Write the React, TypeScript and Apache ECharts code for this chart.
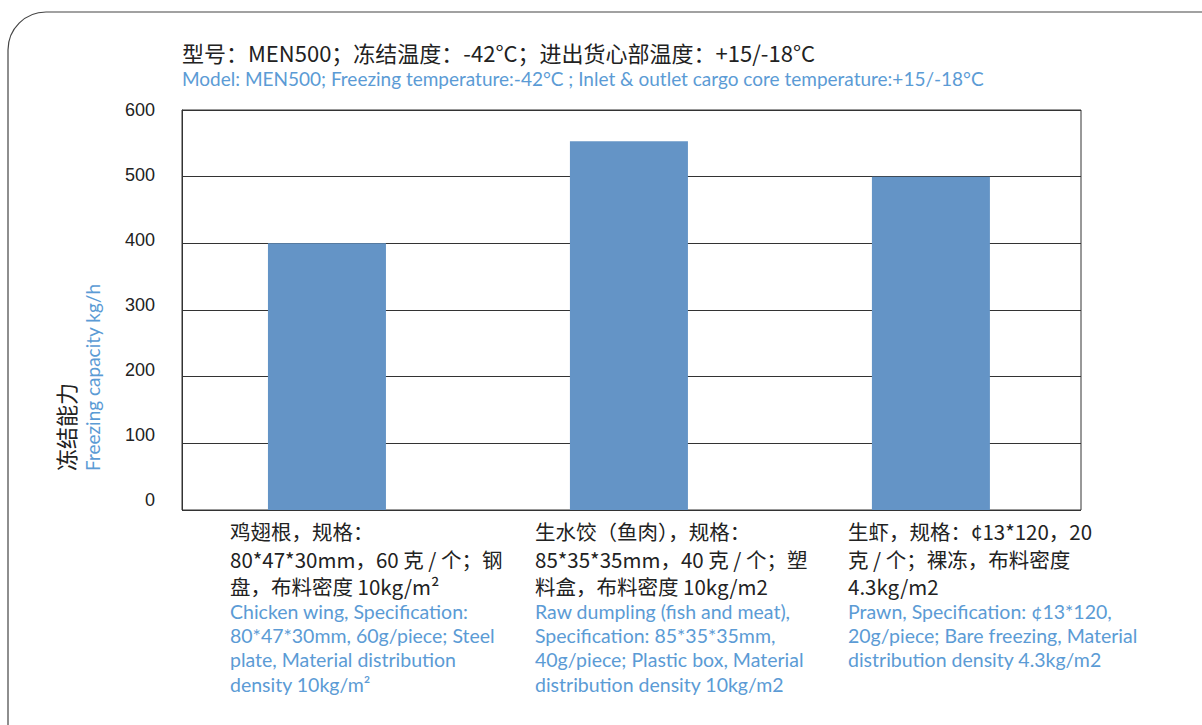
import React, { useEffect, useRef } from "react";
import * as echarts from "echarts";

const titleZh = "型号：MEN500；冻结温度：-42°C；进出货心部温度：+15/-18°C";
const titleEn = "Model: MEN500; Freezing temperature:-42°C ; Inlet & outlet cargo core temperature:+15/-18°C";
const yNameZh = "冻结能力";
const yNameEn = "Freezing capacity kg/h";

const xPositions = [0, 1, 2];
const capacityValues = [400, 553, 500];
const yTicks = [0, 100, 200, 300, 400, 500, 600];

const labelsZh = [
  ["鸡翅根，规格：", "80*47*30mm，60 克 / 个；钢", "盘，布料密度 10kg/m²"],
  ["生水饺（鱼肉），规格：", "85*35*35mm，40 克 / 个；塑", "料盒，布料密度 10kg/m2"],
  ["生虾，规格：¢13*120，20", "克 / 个；裸冻，布料密度", "4.3kg/m2"],
];
const labelsEn = [
  ["Chicken wing, Specification:", "80*47*30mm, 60g/piece; Steel", "plate, Material distribution", "density 10kg/m²"],
  ["Raw dumpling (fish and meat),", "Specification: 85*35*35mm,", "40g/piece; Plastic box, Material", "distribution density 10kg/m2"],
  ["Prawn, Specification: ¢13*120,", "20g/piece; Bare freezing, Material", "distribution density 4.3kg/m2"],
];

const BLUE_TEXT = "#5b9bd5";
const BAR = "#6494c6";
const CJK = "'Noto Sans CJK SC', sans-serif";
const LAT = "Lato, 'Noto Sans', sans-serif";
const TICK_FONT = "'Liberation Sans', Arial, sans-serif";

export default function App() {
  const ref = useRef<HTMLDivElement>(null);
  useEffect(() => {
    if (!ref.current) return;
    const chart = echarts.init(ref.current, null, { renderer: "svg" });
    const labelLefts = [230, 535, 848];
    const graphics: any[] = [
      {
        type: "rect",
        shape: { x: 8, y: 12, width: 1300, height: 800, r: 38 },
        style: { fill: "none", stroke: "#444", lineWidth: 1.2 },
        silent: true,
      },
      {
        type: "text",
        x: 182,
        y: 52,
        style: { text: titleZh, font: `22px ${CJK}`, fill: "#222", align: "left", verticalAlign: "middle" },
      },
      {
        type: "text",
        x: 182,
        y: 78,
        style: { text: titleEn, font: `19px ${LAT}`, fill: BLUE_TEXT, align: "left", verticalAlign: "middle" },
      },
      {
        type: "text",
        x: 65,
        y: 471,
        rotation: Math.PI / 2,
        style: { text: yNameZh, font: `22px ${CJK}`, fill: "#222", align: "left", verticalAlign: "middle" },
      },
      {
        type: "text",
        x: 92,
        y: 471,
        rotation: Math.PI / 2,
        style: { text: yNameEn, font: `19px ${LAT}`, fill: BLUE_TEXT, align: "left", verticalAlign: "middle" },
      },
    ];
    labelsZh.forEach((lines, i) => {
      lines.forEach((line, j) => {
        graphics.push({
          type: "text",
          x: labelLefts[i],
          y: 531 + j * 27.5,
          style: { text: line, font: `20.5px ${CJK}`, fill: "#222", align: "left", verticalAlign: "middle" },
        });
      });
    });
    labelsEn.forEach((lines, i) => {
      lines.forEach((line, j) => {
        graphics.push({
          type: "text",
          x: labelLefts[i],
          y: 611.5 + j * 24.2,
          style: { text: line, font: `19.5px ${LAT}`, fill: BLUE_TEXT, align: "left", verticalAlign: "middle" },
        });
      });
    });

    // tick labels in the reference sit slightly above their gridlines, more so toward 0
    const rich: Record<string, any> = {};
    yTicks.forEach((v) => {
      const lift = ((600 - v) / 600) * 10;
      rich["t" + v] = {
        fontSize: 18,
        color: "#222",
        fontFamily: TICK_FONT,
        padding: [0, 0, lift * 2, 0],
      };
    });

    chart.setOption({
      animation: false,
      grid: {
        left: 182,
        right: 121,
        top: 110,
        height: 400,
        show: true,
        borderColor: "#333",
        borderWidth: 1,
        backgroundColor: "transparent",
      },
      xAxis: {
        type: "value",
        min: -0.48,
        max: 2.497,
        axisLine: { show: false },
        axisTick: { show: false },
        axisLabel: { show: false },
        splitLine: { show: false },
      },
      yAxis: {
        type: "value",
        min: 0,
        max: 600,
        interval: 100,
        axisLine: { show: true, onZero: false, lineStyle: { color: "#333" } },
        axisTick: { show: false },
        axisLabel: {
          margin: 27,
          fontSize: 18,
          color: "#222",
          fontFamily: TICK_FONT,
          formatter: (v: number) => `{t${v}|${v}}`,
          rich,
        },
        splitLine: { show: true, lineStyle: { color: "#333", width: 1 } },
      },
      series: [
        {
          type: "bar",
          data: xPositions.map((x, i) => [x, capacityValues[i]]),
          barWidth: 118,
          itemStyle: { color: BAR },
          z: 1,
        },
      ],
      graphic: graphics,
    });
    return () => chart.dispose();
  }, []);
  return (
    <div
      ref={ref}
      style={{ position: "fixed", left: 0, top: 0, width: 1202, height: 725, background: "#fff" }}
    />
  );
}
